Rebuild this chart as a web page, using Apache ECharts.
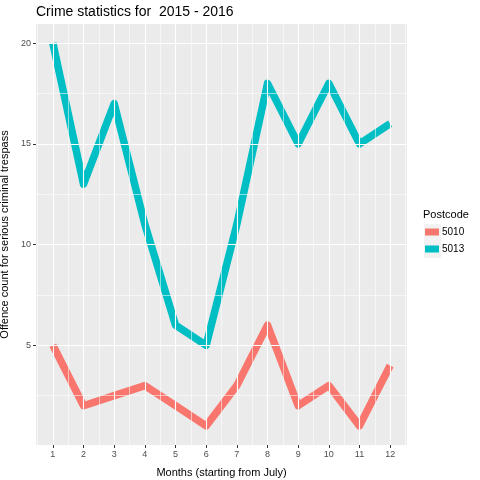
<!DOCTYPE html>
<html>
<head>
<meta charset="utf-8">
<script src="https://cdn.jsdelivr.net/npm/echarts@6/dist/echarts.min.js"></script>
<style>
  html, body { margin: 0; padding: 0; background: #fff; }
  #chart { width: 480px; height: 480px; }
</style>
</head>
<body>
<div id="chart"></div>
<script>
// months 1..12, starting from July
var months = [1, 2, 3, 4, 5, 6, 7, 8, 9, 10, 11, 12];
var postcodes = ['5010', '5013'];
var counts5010 = [5, 2, 2.5, 3, 2, 1, 3, 6, 2, 3, 1, 4];
var counts5013 = [20, 13, 17, 11, 6, 5, 11, 18, 15, 18, 15, 16];
var yTicks = [5, 10, 15, 20];
var yMinor = [2.5, 7.5, 12.5, 17.5];
var xMinor = [0.5, 1.5, 2.5, 3.5, 4.5, 5.5, 6.5, 7.5, 8.5, 9.5, 10.5, 11.5, 12.5];

var colors = ['#F8766D', '#00BFC4'];

function pairs(xs, ys) {
    var out = [];
    for (var i = 0; i < xs.length; i++) {
        out.push([xs[i], ys[i]]);
    }
    return out;
}

// white ggplot-style grid lines, drawn as mark lines on the axes
function gridLines() {
    var list = [];
    var major = { color: '#ffffff', width: 1.1, type: 'solid' };
    var minor = { color: '#ffffff', width: 0.55, type: 'solid' };
    xMinor.forEach(function (v) { list.push({ xAxis: v, lineStyle: minor }); });
    yMinor.forEach(function (v) { list.push({ yAxis: v, lineStyle: minor }); });
    months.forEach(function (v) { list.push({ xAxis: v, lineStyle: major }); });
    yTicks.forEach(function (v) { list.push({ yAxis: v, lineStyle: major }); });
    return list;
}

var chart = echarts.init(document.getElementById('chart'));
var tickText = { color: '#4D4D4D', fontSize: 9, fontFamily: 'Liberation Sans' };

var option = {
    animation: false,
    title: {
        text: 'Crime statistics for  2015 - 2016',
        left: 36,
        top: 5,
        padding: 0,
        textStyle: { fontSize: 14, fontWeight: 'normal', color: '#000', fontFamily: 'Liberation Sans' }
    },
    grid: {
        left: 36, right: 73, top: 24, bottom: 35,
        containLabel: false,
        outerBoundsMode: 'none',
        show: true, backgroundColor: '#EBEBEB', borderWidth: 0
    },
    legend: {
        orient: 'vertical',
        left: 425,
        top: 227,
        padding: 0,
        itemWidth: 14,
        itemHeight: 7,
        itemGap: 7,
        icon: 'rect',
        lineStyle: { opacity: 0, width: 0 },
        data: postcodes,
        textStyle: { fontSize: 10, lineHeight: 10, color: '#000', fontFamily: 'Liberation Sans', padding: [0, 0, 0, -2] }
    },
    graphic: [
        { type: 'text', left: 423, top: 209, style: { text: 'Postcode', fontSize: 11, fill: '#000', fontFamily: 'Liberation Sans' } },
        { type: 'rect', shape: { x: 424, y: 224, width: 17, height: 17 }, style: { fill: '#F2F2F2' }, z: -1 },
        { type: 'rect', shape: { x: 424, y: 241, width: 17, height: 17 }, style: { fill: '#F2F2F2' }, z: -1 }
    ],
    xAxis: {
        type: 'value',
        min: 0.45,
        max: 12.55,
        name: 'Months (starting from July)',
        nameLocation: 'middle',
        nameGap: 22,
        nameTextStyle: { fontSize: 11, color: '#000', fontFamily: 'Liberation Sans' },
        axisLine: { show: false },
        splitLine: { show: false },
        axisTick: { show: true, length: 3, lineStyle: { color: '#333333' }, customValues: months },
        axisLabel: Object.assign({ margin: 5, customValues: months }, tickText)
    },
    yAxis: {
        type: 'value',
        min: 0.05,
        max: 20.95,
        name: 'Offence count for serious criminal trespass',
        nameLocation: 'middle',
        nameGap: 20,
        nameTextStyle: { fontSize: 11, color: '#000', fontFamily: 'Liberation Sans' },
        axisLine: { show: false },
        splitLine: { show: false },
        axisTick: { show: true, length: 3, lineStyle: { color: '#333333' }, customValues: yTicks },
        axisLabel: Object.assign({ margin: 5, customValues: yTicks }, tickText)
    },
    series: [
        {
            name: 'grid',
            type: 'line',
            z: 1,
            data: [[0.45, 0.05]],
            showSymbol: false,
            lineStyle: { opacity: 0 },
            silent: true,
            markLine: {
                silent: true,
                symbol: ['none', 'none'],
                label: { show: false },
                data: gridLines()
            }
        },
        {
            name: postcodes[0],
            type: 'line',
            z: 2,
            data: pairs(months, counts5010),
            showSymbol: false,
            color: colors[0],
            lineStyle: { width: 7.5, color: colors[0], cap: 'butt', join: 'round' }
        },
        {
            name: postcodes[1],
            type: 'line',
            z: 3,
            data: pairs(months, counts5013),
            showSymbol: false,
            color: colors[1],
            lineStyle: { width: 7.5, color: colors[1], cap: 'butt', join: 'round' }
        }
    ]
};
chart.setOption(option);
</script>
</body>
</html>
